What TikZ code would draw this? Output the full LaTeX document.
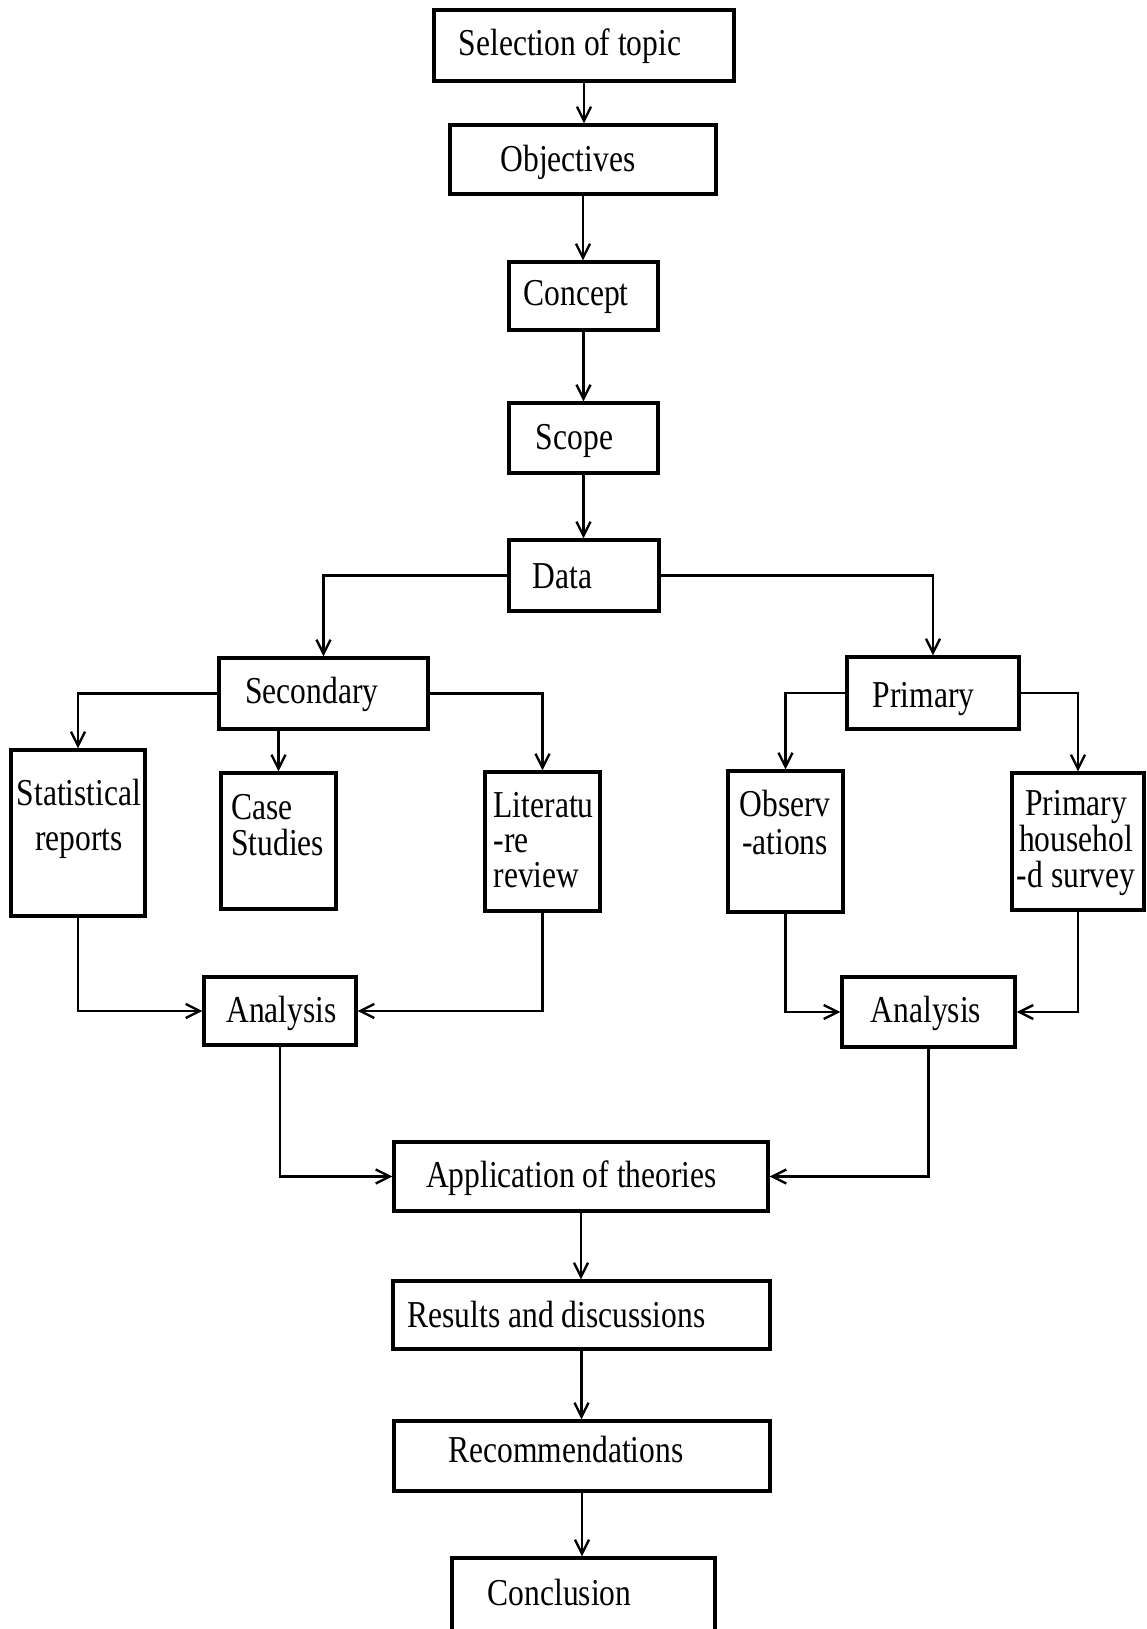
\documentclass[tikz,border=0pt]{standalone}
\usepackage{fontspec}
\setmainfont{Liberation Serif}[FakeStretch=0.83]
\usetikzlibrary{arrows.meta}
\begin{document}
\begin{tikzpicture}[x=1pt,y=-1pt,
  box/.style={draw, line width=3.2pt, inner sep=0pt},
  txt/.style={inner sep=0pt, font=\fontsize{38}{38}\selectfont},
  arr/.style={line width=2.8pt, -{Straight Barb[length=14pt,width=14pt,line width=2.4pt]}}]
\useasboundingbox[fill=white] (0,0) rectangle (1147,1629);
% boxes
\node[box, minimum width=300pt, minimum height=71pt] (sel) at (584,45.5) {};
\node[box, minimum width=266pt, minimum height=69pt] (obj) at (583,159.5) {};
\node[box, minimum width=149pt, minimum height=68pt] (con) at (583.5,296) {};
\node[box, minimum width=149pt, minimum height=70pt] (scp) at (583.5,438) {};
\node[box, minimum width=150pt, minimum height=71pt] (dat) at (584,575.5) {};
\node[box, minimum width=209pt, minimum height=71pt] (sec) at (323.5,693.5) {};
\node[box, minimum width=172pt, minimum height=72pt] (pri) at (933,693) {};
\node[box, minimum width=134pt, minimum height=166pt] (sta) at (78,833) {};
\node[box, minimum width=115pt, minimum height=136pt] (cas) at (278.5,841) {};
\node[box, minimum width=115pt, minimum height=139pt] (lit) at (542.5,841.5) {};
\node[box, minimum width=115pt, minimum height=141pt] (obs) at (785.5,841.5) {};
\node[box, minimum width=132pt, minimum height=137pt] (phs) at (1078,841.5) {};
\node[box, minimum width=152pt, minimum height=68pt] (anl) at (280,1011) {};
\node[box, minimum width=173pt, minimum height=70pt] (anr) at (928.5,1012) {};
\node[box, minimum width=374pt, minimum height=69pt] (app) at (581,1176.5) {};
\node[box, minimum width=377pt, minimum height=68pt] (res) at (581.5,1315) {};
\node[box, minimum width=376pt, minimum height=70pt] (rec) at (582,1456) {};
\node[box, minimum width=263pt, minimum height=82pt] (cnc) at (583.5,1599) {};
% texts
\node[txt, anchor=base] (selt) at (570,56) {Selection of topic};
\node[txt, anchor=base] (objt) at (568,171.5) {Objectives};
\node[txt, anchor=base] (cont) at (576,305) {Concept};
\node[txt, anchor=base] (scpt) at (574.5,449) {Scope};
\node[txt, anchor=base] (datt) at (562.5,588) {Data};
\node[txt, anchor=base] (sect) at (312,703) {Secondary};
\node[txt, anchor=base] (prit) at (923.5,707.5) {Primary};
\node[txt, anchor=north, align=center, font=\fontsize{38}{45}\selectfont] (stat) at (79,779) {Statistical\\reports};
\node[txt, anchor=north west, align=left, font=\fontsize{38}{36}\selectfont] (cast) at (231,794) {Case\\Studies};
\node[txt, anchor=north west, align=left, font=\fontsize{38}{35}\selectfont] (litt) at (493.5,792) {Literatu\\-re\\review};
\node[txt, anchor=north, align=center, font=\fontsize{38}{38}\selectfont] (obst) at (785,790) {Observ\\-ations};
\node[txt, anchor=north, align=center, font=\fontsize{38}{36}\selectfont] (phst) at (1076,790) {Primary\\househol\\-d survey};
\node[txt, anchor=base] (anlt) at (281.5,1022) {Analysis};
\node[txt, anchor=base] (anrt) at (926,1022) {Analysis};
\node[txt, anchor=base] (appt) at (571.5,1187.5) {Application of theories};
\node[txt, anchor=base] (rest) at (556.5,1327) {Results and discussions};
\node[txt, anchor=base] (rect) at (566,1462) {Recommendations};
\node[txt, anchor=base] (cnct) at (559.5,1605) {Conclusion};
% connectors
\draw[arr] (sel.south) -- (sel.south |- obj.north);
\draw[arr] (obj.south) -- (obj.south |- con.north);
\draw[arr] (con.south) -- (con.south |- scp.north);
\draw[arr] (scp.south) -- (scp.south |- dat.north);
\draw[arr] (dat.west) -| (sec.north);
\draw[arr] (dat.east) -| (pri.north);
\draw[arr] (sec.west) -| (sta.north);
\draw[arr] (sec.south -| cas.north) -- (cas.north);
\draw[arr] (sec.east) -| (lit.north);
\draw[arr] (pri.west) -| (obs.north);
\draw[arr] (pri.east) -| (phs.north);
\draw[arr] (sta.south) |- (anl.west);
\draw[arr] (lit.south) |- (anl.east);
\draw[arr] (obs.south) |- (anr.west);
\draw[arr] (phs.south) |- (anr.east);
\draw[arr] (anl.south) |- (app.west);
\draw[arr] (anr.south) |- (app.east);
\draw[arr] (app.south) -- (app.south |- res.north);
\draw[arr] (res.south) -- (res.south |- rec.north);
\draw[arr] (rec.south) -- (rec.south |- cnc.north);
\end{tikzpicture}
\end{document}
